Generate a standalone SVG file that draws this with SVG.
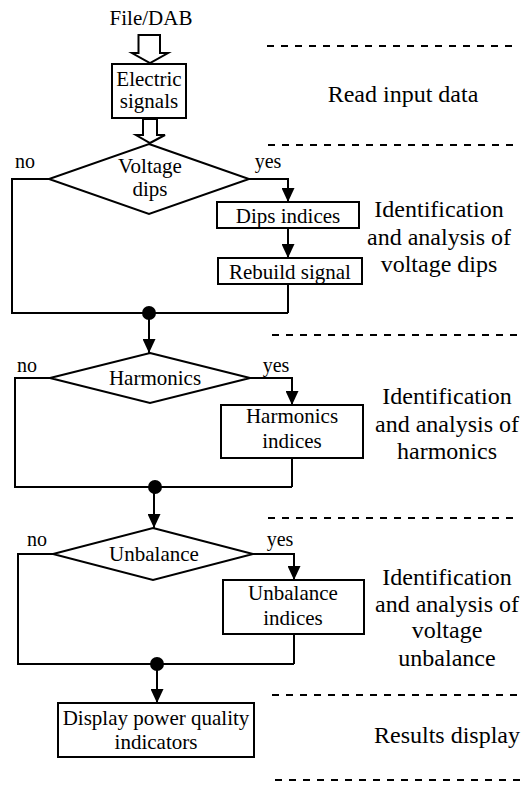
<svg xmlns="http://www.w3.org/2000/svg" width="522" height="785" viewBox="0 0 522 785">
<defs>
<style>
.ln{fill:none;stroke:#000;stroke-width:2}
.bx{fill:#fff;stroke:#000;stroke-width:2}
.ds{fill:none;stroke:#000;stroke-width:2;stroke-dasharray:7 7}
text{fill:#000;text-anchor:middle}
.t{font-size:21px}
.s{font-size:20px}
.r{font-size:24px}
</style>
<marker id="ah" markerWidth="14" markerHeight="13" refX="14" refY="6.5" orient="auto" markerUnits="userSpaceOnUse" viewBox="0 0 14 13">
<path d="M0,0 L14,6.5 L0,13 Z" fill="#000"/>
</marker>
</defs>
<rect width="522" height="785" fill="#fff"/>

<g id="separators">
<line class="ds" x1="267" y1="46" x2="515" y2="46"/>
<line class="ds" x1="268" y1="145" x2="516" y2="145"/>
<line class="ds" x1="272" y1="335" x2="518" y2="335"/>
<line class="ds" x1="268" y1="518" x2="516" y2="518"/>
<line class="ds" x1="272" y1="695" x2="518" y2="695"/>
<line class="ds" x1="275" y1="780" x2="521" y2="780"/>
</g>

<g id="connectors" font-family="Liberation Serif, serif">
<path class="ln" d="M138.5,35 H160 V53 H168 L150,63 L132,53 H138.5 Z"/>
<path class="ln" d="M143,119 H157 V135 H165 L150,143 L136,135 H143 Z"/>
<path class="ln" d="M49,179 H12 V313 H288"/>
<path class="ln" d="M249,179 H288 V202" marker-end="url(#ah)"/>
<path class="ln" d="M288,228 V258" marker-end="url(#ah)"/>
<path class="ln" d="M288,284 V313"/>
<path class="ln" d="M149,313 V353" marker-end="url(#ah)"/>
<path class="ln" d="M50,378 H15 V487 H292"/>
<path class="ln" d="M250,378 H292 V405" marker-end="url(#ah)"/>
<path class="ln" d="M292,458 V487"/>
<path class="ln" d="M154,487 V528" marker-end="url(#ah)"/>
<path class="ln" d="M53,554 H18 V664 H294"/>
<path class="ln" d="M253,554 H294 V580" marker-end="url(#ah)"/>
<path class="ln" d="M294,634 V664"/>
<path class="ln" d="M157,664 V703" marker-end="url(#ah)"/>
<circle cx="149" cy="313" r="7" fill="#000"/>
<circle cx="155" cy="487" r="7" fill="#000"/>
<circle cx="157" cy="664" r="7" fill="#000"/>
<text class="s" x="25" y="168">no</text>
<text class="s" x="268" y="168">yes</text>
<text class="s" x="27" y="372">no</text>
<text class="s" x="276" y="372">yes</text>
<text class="s" x="37" y="546">no</text>
<text class="s" x="280" y="546">yes</text>
</g>

<g id="input" font-family="Liberation Serif, serif">
<text class="t" x="151" y="25">File/DAB</text>
</g>
<g id="electric-signals" font-family="Liberation Serif, serif">
<rect class="bx" x="112" y="64" width="74" height="54"/>
<text class="t" x="149" y="86">Electric</text>
<text class="t" x="149" y="108">signals</text>
</g>
<g id="voltage-dips" font-family="Liberation Serif, serif">
<polygon class="bx" points="149,144 249,179 149,214 49,179"/>
<text class="t" x="150" y="173">Voltage</text>
<text class="t" x="150" y="196">dips</text>
</g>
<g id="dips-indices" font-family="Liberation Serif, serif">
<rect class="bx" x="217" y="202" width="142" height="26"/>
<text class="t" x="288" y="223">Dips indices</text>
</g>
<g id="rebuild-signal" font-family="Liberation Serif, serif">
<rect class="bx" x="218" y="258" width="144" height="26"/>
<text class="t" x="290" y="279">Rebuild signal</text>
</g>
<g id="harmonics" font-family="Liberation Serif, serif">
<polygon class="bx" points="150,353 250,378 150,403 50,378"/>
<text class="t" x="155" y="385">Harmonics</text>
</g>
<g id="harmonics-indices" font-family="Liberation Serif, serif">
<rect class="bx" x="221" y="405" width="142" height="53"/>
<text class="t" x="292" y="423">Harmonics</text>
<text class="t" x="292" y="448">indices</text>
</g>
<g id="unbalance" font-family="Liberation Serif, serif">
<polygon class="bx" points="153,528 253,554 153,580 53,554"/>
<text class="t" x="154" y="561">Unbalance</text>
</g>
<g id="unbalance-indices" font-family="Liberation Serif, serif">
<rect class="bx" x="223" y="580" width="141" height="54"/>
<text class="t" x="293" y="600">Unbalance</text>
<text class="t" x="293" y="625">indices</text>
</g>
<g id="display" font-family="Liberation Serif, serif">
<rect class="bx" x="58" y="703" width="196" height="54"/>
<text class="t" x="156" y="725">Display power quality</text>
<text class="t" x="156" y="749">indicators</text>
</g>

<g id="stage-labels" font-family="Liberation Serif, serif">
<text class="r" x="403" y="102">Read input data</text>
<text class="r" x="439" y="217">Identification</text>
<text class="r" x="439" y="245">and analysis of</text>
<text class="r" x="439" y="272">voltage dips</text>
<text class="r" x="447" y="404">Identification</text>
<text class="r" x="447" y="432">and analysis of</text>
<text class="r" x="447" y="459">harmonics</text>
<text class="r" x="447" y="585">Identification</text>
<text class="r" x="447" y="612">and analysis of</text>
<text class="r" x="447" y="638">voltage</text>
<text class="r" x="447" y="666">unbalance</text>
<text class="r" x="447" y="743">Results display</text>
</g>
</svg>
